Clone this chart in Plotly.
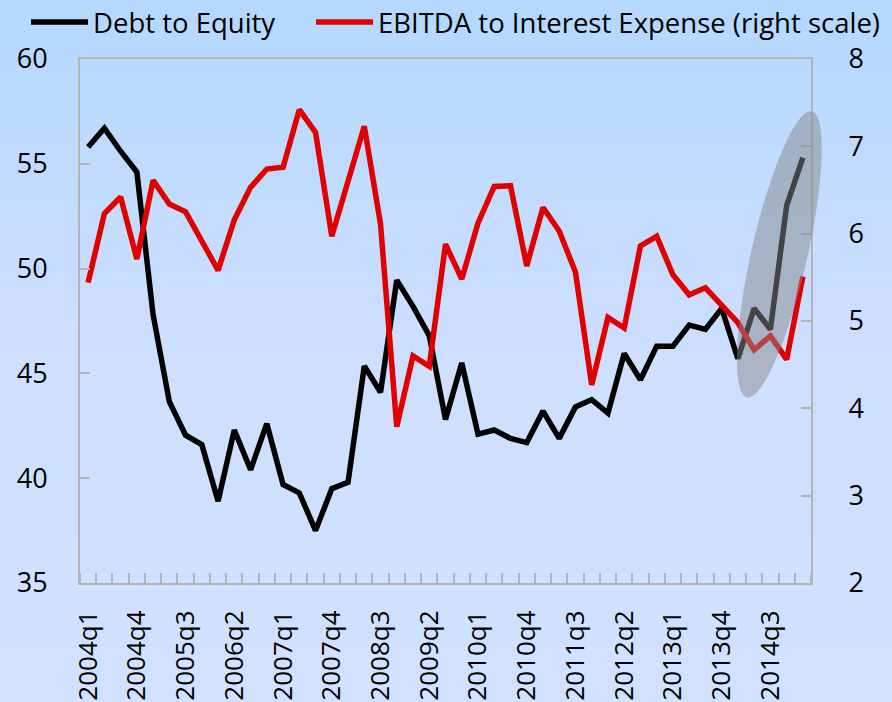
import base64, struct, zlib, math
import plotly.graph_objects as go

quarters = [
    "2004q1", "2004q2", "2004q3", "2004q4", "2005q1", "2005q2", "2005q3", "2005q4",
    "2006q1", "2006q2", "2006q3", "2006q4", "2007q1", "2007q2", "2007q3", "2007q4",
    "2008q1", "2008q2", "2008q3", "2008q4", "2009q1", "2009q2", "2009q3", "2009q4",
    "2010q1", "2010q2", "2010q3", "2010q4", "2011q1", "2011q2", "2011q3", "2011q4",
    "2012q1", "2012q2", "2012q3", "2012q4", "2013q1", "2013q2", "2013q3", "2013q4",
    "2014q1", "2014q2", "2014q3", "2014q4", "2015q1",
]

debt_to_equity = [
    55.8, 56.7, 55.6, 54.6, 47.8, 43.65, 42.05, 41.6, 38.9, 42.3, 40.4, 42.6,
    39.7, 39.3, 37.5, 39.5, 39.8, 45.35, 44.1, 49.45, 48.2, 46.8, 42.8, 45.5,
    42.1, 42.3, 41.9, 41.7, 43.2, 41.9, 43.4, 43.75, 43.1, 45.95, 44.7, 46.3,
    46.3, 47.3, 47.1, 48.1, 45.7, 48.1, 47.1, 53.0, 55.3,
]

ebitda_to_interest = [
    5.44, 6.23, 6.42, 5.71, 6.61, 6.34, 6.25, 5.91, 5.58, 6.16, 6.53, 6.74,
    6.76, 7.42, 7.16, 5.97, 6.6, 7.23, 6.11, 3.79, 4.6, 4.48, 5.88, 5.48,
    6.12, 6.54, 6.55, 5.63, 6.3, 6.03, 5.56, 4.27, 5.04, 4.92, 5.86, 5.97,
    5.53, 5.30, 5.38, 5.17, 4.98, 4.67, 4.83, 4.56, 5.51,
]

left_ticks = [35, 40, 45, 50, 55, 60]
right_ticks = [2, 3, 4, 5, 6, 7, 8]
label_step = 3

W, H = 892, 702
ML, MR, MT, MB = 80, 81, 59, 119
PW, PH = W - ML - MR, H - MT - MB
FONT = "Open Sans"

n = len(quarters)
xidx = list(range(n))
xr = [-0.5, n - 0.5]
yl = [35, 60]

# ---------- background gradient image ----------
def grad_color(py):
    stops = [(0, (180, 216, 255)), (360, (206, 223, 255)), (702, (209, 225, 255))]
    for (y0, c0), (y1, c1) in zip(stops, stops[1:]):
        if py <= y1:
            t = (py - y0) / (y1 - y0)
            return tuple(int(round(a + (b - a) * t)) for a, b in zip(c0, c1))
    return stops[-1][1]

def png_gradient(w, h):
    raw = b""
    for yy in range(h):
        c = grad_color(yy)
        raw += b"\x00" + bytes(c) * w
    def chunk(tag, data):
        return struct.pack(">I", len(data)) + tag + data + struct.pack(">I", zlib.crc32(tag + data) & 0xffffffff)
    png = b"\x89PNG\r\n\x1a\n" + chunk(b"IHDR", struct.pack(">IIBBBBB", w, h, 8, 2, 0, 0, 0))
    png += chunk(b"IDAT", zlib.compress(raw, 9)) + chunk(b"IEND", b"")
    return "data:image/png;base64," + base64.b64encode(png).decode()

bg_src = png_gradient(4, H)

fig = go.Figure()
fig.add_trace(go.Scatter(
    x=xidx, y=debt_to_equity, mode="lines", name="Debt to Equity",
    line=dict(color="#000000", width=5.5), yaxis="y", legend="legend",
))
fig.add_trace(go.Scatter(
    x=xidx, y=ebitda_to_interest, mode="lines",
    name="EBITDA to Interest Expense (right scale)",
    line=dict(color="#e00000", width=5.5), yaxis="y2", legend="legend2",
))

# ---------- highlight ellipse (annotation) ----------
ex_c, ey_c = 42.55, 50.68           # centre, data units (x index, left axis)
a_px, b_px, tilt = 146.6, 28.0, math.radians(12.8)
pxx = PW / (xr[1] - xr[0])
pxy = PH / (yl[1] - yl[0])
pts = []
for k in range(121):
    t = 2 * math.pi * k / 120
    dx = a_px * math.cos(t) * math.sin(tilt) + b_px * math.sin(t) * math.cos(tilt)
    dy = a_px * math.cos(t) * math.cos(tilt) - b_px * math.sin(t) * math.sin(tilt)
    xd = ex_c + dx / pxx
    yd = ey_c + dy / pxy
    px = (xd - xr[0]) / (xr[1] - xr[0])
    py = (yd - yl[0]) / (yl[1] - yl[0])
    pts.append(f"{px:.5f},{py:.5f}")
path = "M" + " L".join(pts) + " Z"

leg_common = dict(
    orientation="h", xanchor="left", yanchor="middle", y=1 + (MT - 22) / PH,
    font=dict(family=FONT, size=27.5, color="#000000"),
    bgcolor="rgba(0,0,0,0)", itemwidth=57, borderwidth=0,
)

fig.update_layout(
    width=W, height=H,
    margin=dict(l=ML, r=MR, t=MT, b=MB, pad=0, autoexpand=False),
    paper_bgcolor="rgb(206,223,255)",
    plot_bgcolor="rgba(0,0,0,0)",
    font=dict(family=FONT, size=26, color="#000000"),
    showlegend=True,
    legend=dict(x=(26 - ML) / PW, **leg_common),
    legend2=dict(x=(311 - ML) / PW, **leg_common),
    images=[dict(
        source=bg_src, xref="paper", yref="paper",
        x=-ML / PW, y=1 + MT / PH, sizex=W / PW, sizey=H / PH,
        xanchor="left", yanchor="top", sizing="stretch", layer="below",
    )],
    shapes=[dict(
        type="path", path=path, xref="paper", yref="paper",
        fillcolor="rgba(135,135,140,0.5)", line=dict(width=0), layer="above",
    )],
    xaxis=dict(
        range=xr, tickmode="array",
        tickvals=xidx[::label_step], ticktext=quarters[::label_step],
        tickangle=-90, ticks="", ticklabelstandoff=15,
        showline=True, linecolor="#b4b4b4", linewidth=2, mirror=True,
        showgrid=False, zeroline=False, automargin=False,
        tickfont=dict(family=FONT, size=26),
        minor=dict(ticks="inside", tickmode="linear", tick0=-0.5, dtick=1,
                   ticklen=10, tickwidth=2, tickcolor="#b4b4b4", showgrid=False),
    ),
    yaxis=dict(
        range=yl, tickmode="array", tickvals=left_ticks,
        ticks="inside", ticklen=10, tickwidth=2, tickcolor="#b4b4b4",
        showline=True, linecolor="#b4b4b4", linewidth=2, automargin=False,
        showgrid=False, zeroline=False, ticklabelstandoff=25,
        tickfont=dict(family=FONT, size=27),
    ),
    yaxis2=dict(
        range=[2, 8], tickmode="array", tickvals=right_ticks,
        overlaying="y", side="right", automargin=False,
        ticks="inside", ticklen=10, tickwidth=2, tickcolor="#b4b4b4",
        showline=True, linecolor="#b4b4b4", linewidth=2,
        showgrid=False, zeroline=False, ticklabelstandoff=30,
        tickfont=dict(family=FONT, size=27),
    ),
)

fig.write_html(
    "out.html",
    config={"displayModeBar": False},
    post_script="document.body.style.margin='0';document.body.style.padding='0';",
)
